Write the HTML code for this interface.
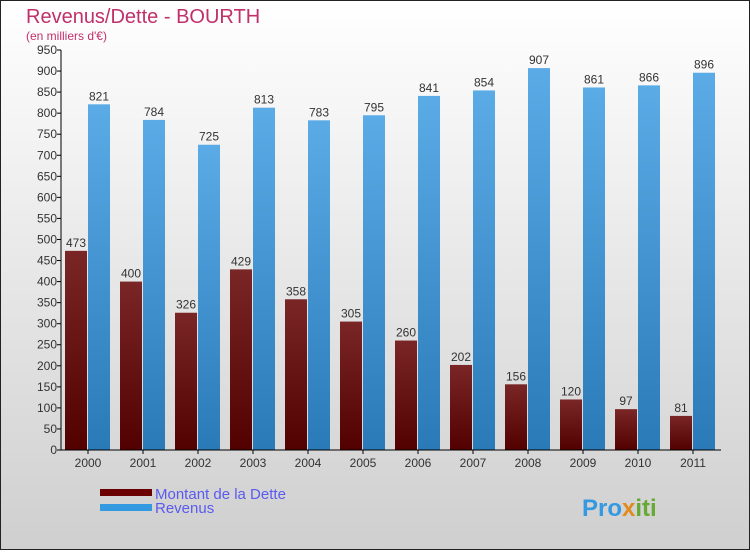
<!DOCTYPE html>
<html><head><meta charset="utf-8"><style>
body{margin:0;width:750px;height:550px;overflow:hidden;font-family:"Liberation Sans",sans-serif}
</style></head><body>
<svg id="c" width="750" height="550" xmlns="http://www.w3.org/2000/svg">
<defs>
<linearGradient id="bg" x1="0" y1="0" x2="0" y2="1"><stop offset="0" stop-color="#ffffff"/><stop offset="1" stop-color="#cfcfcf"/></linearGradient>
<linearGradient id="gd" x1="0" y1="0" x2="0" y2="1"><stop offset="0" stop-color="#7a2626"/><stop offset="1" stop-color="#520000"/></linearGradient>
<linearGradient id="gr" x1="0" y1="0" x2="0" y2="1"><stop offset="0" stop-color="#5aabe6"/><stop offset="1" stop-color="#2a7ab8"/></linearGradient>
</defs>
<rect x="0.5" y="0.5" width="749" height="549" fill="url(#bg)" stroke="#222"/>
<text x="26" y="23" font-size="20" fill="#c0306a">Revenus/Dette - BOURTH</text>
<text x="26" y="40" font-size="12" fill="#c0306a">(en milliers d'€)</text>
<g id="plot"></g>
<rect x="100" y="489" width="52" height="7" fill="#6a0000"/>
<text x="155" y="499" font-size="15" fill="#5a5af0">Montant de la Dette</text>
<rect x="100" y="504" width="52" height="7" fill="#3399e0"/>
<text x="155" y="513" font-size="15" fill="#5a5af0">Revenus</text>
<text x="582" y="516" font-size="24" font-weight="bold" fill="#3399e0">Pro<tspan fill="#e08a20">x</tspan><tspan fill="#66aa33">iti</tspan></text>
</svg>
<script>
const years=["2000","2001","2002","2003","2004","2005","2006","2007","2008","2009","2010","2011"];
const dette=[473,400,326,429,358,305,260,202,156,120,97,81];
const revenus=[821,784,725,813,783,795,841,854,907,861,866,896];
const yTicks=[0,50,100,150,200,250,300,350,400,450,500,550,600,650,700,750,800,850,900,950];
const NS="http://www.w3.org/2000/svg";
const g=document.getElementById('plot');
const y0=450,y1=50,x0=61,gw=55;
function yS(v){return y0-(v/950)*(y0-y1);}
function xS(i){return x0+4+i*gw;}
function mk(t,a){const e=document.createElementNS(NS,t);for(const k in a)e.setAttribute(k,a[k]);g.appendChild(e);return e;}
yTicks.forEach(v=>{
 const l=mk('line',{x1:x0-4,x2:x0,y1:yS(v),y2:yS(v),stroke:'#000'});
 
 
 const t=mk('text',{x:x0-4,y:yS(v)+4,'text-anchor':'end','font-size':12,fill:'#333'});
 t.textContent=v;
 
 
});
years.forEach((yr,i)=>{
 const x=xS(i);
 const b1=mk('rect',{x:x,y:yS(dette[i]),width:22,height:y0-yS(dette[i]),fill:'url(#gd)'});
 
 
 const b2=mk('rect',{x:x+23,y:yS(revenus[i]),width:22,height:y0-yS(revenus[i]),fill:'url(#gr)'});
 
 
 const t1=mk('text',{x:x+11,y:yS(dette[i])-4,'text-anchor':'middle','font-size':12,fill:'#333'});
 t1.textContent=dette[i];
 
 
 const t2=mk('text',{x:x+34,y:yS(revenus[i])-4,'text-anchor':'middle','font-size':12,fill:'#333'});
 t2.textContent=revenus[i];
 
 
 const tk=mk('line',{x1:x+23,x2:x+23,y1:y0,y2:y0+4,stroke:'#000'});
 
 
 const xl=mk('text',{x:x+23,y:y0+17,'text-anchor':'middle','font-size':12,fill:'#333'});
 xl.textContent=yr;
 
 
});
const ax=mk('line',{x1:x0,x2:x0,y1:y1,y2:y0,stroke:'#000'});


const axx=mk('line',{x1:x0,x2:x0+12*gw,y1:y0,y2:y0,stroke:'#000'});


</script>
</body></html>
